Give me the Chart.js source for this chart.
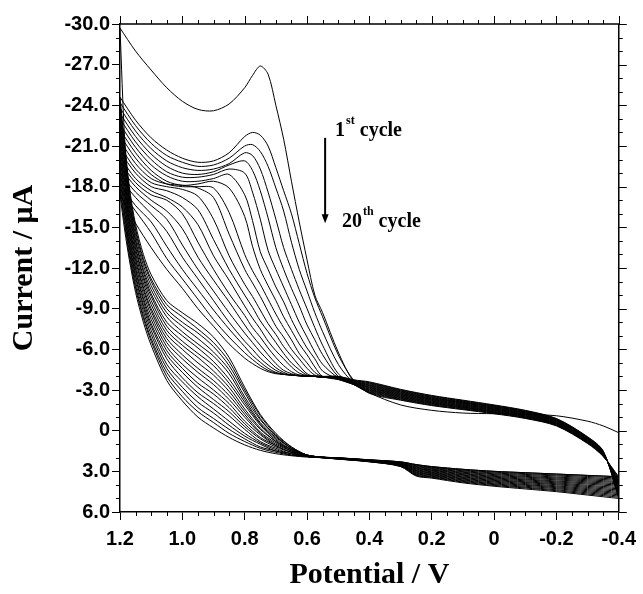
<!DOCTYPE html>
<html><head><meta charset="utf-8">
<script src="https://cdn.jsdelivr.net/npm/chart.js@4.4.1/dist/chart.umd.min.js"></script>
<style>html,body{margin:0;padding:0;background:#fff;}canvas{display:block;}</style>
</head><body>
<canvas id="c" width="643" height="594"></canvas>
<script>
// Potential grids (V)
const potentialForward = [-0.4,-0.3,-0.2,-0.1,0.0,0.1,0.2,0.25,0.3,0.4,0.5,0.55,0.6,0.65,0.7,0.75,0.8,0.85,0.9,0.95,1.0,1.05,1.1,1.125,1.15,1.17,1.185,1.2];
const potentialReverse = [1.2,1.15,1.1,1.05,1.0,0.95,0.9,0.85,0.8,0.775,0.75,0.725,0.7,0.675,0.65,0.625,0.6,0.575,0.55,0.5,0.45,0.4,0.3,0.2,0.1,0.0,-0.1,-0.2,-0.3,-0.35,-0.4];

// Forward sweeps (-0.4 -> 1.2 V), current in µA
const cycle1F  = [3.40,3.30,3.20,3.10,3.00,2.85,2.65,2.50,2.30,2.15,2.00,1.95,1.8,1.2,0.2,-1.2,-3.2,-5.4,-6.9,-7.9,-8.7,-9.6,-11.5,-13.0,-15.2,-18.0,-21.5,-29.7];
const cycle2F  = [3.40,3.30,3.20,3.10,3.00,2.85,2.65,2.50,2.30,2.15,2.00,1.95,1.8,1.2,0.3,-1.1,-3.0,-5.1,-6.5,-7.5,-8.4,-9.3,-11.2,-12.7,-14.9,-17.7,-21.1,-24.6];
const cycle3F  = [3.49,3.38,3.27,3.17,3.06,2.91,2.70,2.55,2.32,2.16,2.01,1.95,1.8,1.3,0.4,-0.9,-2.8,-4.8,-6.2,-7.2,-8.0,-9.0,-11.0,-12.5,-14.7,-17.4,-20.8,-24.2];
const cycle4F  = [3.58,3.46,3.34,3.23,3.12,2.96,2.74,2.59,2.34,2.17,2.01,1.96,1.8,1.3,0.4,-0.8,-2.5,-4.5,-5.8,-6.8,-7.7,-8.7,-10.7,-12.2,-14.4,-17.1,-20.4,-23.8];
const cycle5F  = [3.67,3.54,3.42,3.30,3.18,3.02,2.79,2.64,2.36,2.18,2.02,1.96,1.8,1.3,0.5,-0.6,-2.3,-4.2,-5.5,-6.4,-7.3,-8.4,-10.4,-11.9,-14.1,-16.9,-20.1,-23.4];
const cycle6F  = [3.76,3.62,3.49,3.37,3.24,3.07,2.84,2.69,2.38,2.18,2.02,1.96,1.8,1.4,0.6,-0.5,-2.1,-3.8,-5.1,-6.1,-7.0,-8.0,-10.1,-11.7,-13.9,-16.6,-19.7,-23.0];
const cycle7F  = [3.84,3.70,3.56,3.43,3.31,3.13,2.89,2.74,2.40,2.19,2.03,1.96,1.85,1.4,0.7,-0.4,-1.9,-3.5,-4.8,-5.7,-6.6,-7.7,-9.9,-11.4,-13.6,-16.3,-19.4,-22.6];
const cycle8F  = [3.93,3.78,3.63,3.50,3.37,3.18,2.93,2.78,2.42,2.20,2.03,1.97,1.9,1.4,0.8,-0.2,-1.6,-3.2,-4.4,-5.4,-6.3,-7.4,-9.6,-11.2,-13.4,-16.0,-19.0,-22.2];
const cycle9F  = [4.02,3.86,3.71,3.57,3.43,3.24,2.98,2.83,2.44,2.21,2.04,1.97,1.9,1.5,0.8,-0.1,-1.4,-2.9,-4.1,-5.0,-6.0,-7.1,-9.3,-10.9,-13.1,-15.7,-18.7,-21.8];
const cycle10F = [4.11,3.94,3.78,3.63,3.49,3.29,3.03,2.88,2.46,2.22,2.04,1.97,1.9,1.5,0.9,0.1,-1.2,-2.6,-3.7,-4.6,-5.6,-6.8,-9.0,-10.6,-12.8,-15.4,-18.3,-21.4];
const cycle11F = [4.20,4.03,3.85,3.70,3.55,3.35,3.08,2.93,2.48,2.23,2.05,1.98,1.9,1.5,1.0,0.2,-1.0,-2.3,-3.4,-4.3,-5.3,-6.5,-8.8,-10.4,-12.6,-15.2,-18.0,-21.0];
const cycle12F = [4.29,4.11,3.92,3.77,3.61,3.41,3.12,2.97,2.49,2.23,2.06,1.98,1.9,1.6,1.1,0.3,-0.7,-2.0,-3.0,-3.9,-4.9,-6.2,-8.5,-10.1,-12.3,-14.9,-17.6,-20.6];
const cycle13F = [4.38,4.19,3.99,3.83,3.67,3.46,3.17,3.02,2.51,2.24,2.06,1.98,1.9,1.6,1.1,0.5,-0.5,-1.7,-2.7,-3.5,-4.6,-5.9,-8.2,-9.8,-12.0,-14.6,-17.3,-20.2];
const cycle14F = [4.47,4.27,4.07,3.90,3.73,3.52,3.22,3.07,2.53,2.25,2.07,1.98,1.9,1.6,1.2,0.6,-0.3,-1.4,-2.3,-3.2,-4.3,-5.6,-7.9,-9.6,-11.8,-14.3,-16.9,-19.8];
const cycle15F = [4.56,4.35,4.14,3.97,3.79,3.57,3.26,3.11,2.55,2.26,2.07,1.99,1.9,1.7,1.3,0.8,-0.1,-1.1,-2.0,-2.8,-3.9,-5.3,-7.7,-9.3,-11.5,-14.0,-16.6,-19.4];
const cycle16F = [4.64,4.43,4.21,4.03,3.86,3.63,3.31,3.16,2.57,2.27,2.08,1.99,1.9,1.7,1.4,0.9,0.2,-0.7,-1.6,-2.5,-3.6,-4.9,-7.4,-9.1,-11.3,-13.7,-16.2,-19.0];
const cycle17F = [4.73,4.51,4.28,4.10,3.92,3.68,3.36,3.21,2.59,2.27,2.08,1.99,1.9,1.7,1.5,1.0,0.4,-0.4,-1.3,-2.1,-3.2,-4.6,-7.1,-8.8,-11.0,-13.5,-15.9,-18.6];
const cycle18F = [4.82,4.59,4.36,4.17,3.98,3.74,3.41,3.26,2.61,2.28,2.09,2.00,1.9,1.8,1.5,1.2,0.6,-0.1,-0.9,-1.7,-2.9,-4.3,-6.8,-8.5,-10.7,-13.2,-15.5,-18.2];
const cycle19F = [4.91,4.67,4.43,4.23,4.04,3.79,3.45,3.30,2.63,2.29,2.09,2.00,1.9,1.8,1.6,1.3,0.8,0.2,-0.6,-1.4,-2.5,-4.0,-6.6,-8.3,-10.5,-12.9,-15.2,-17.8];
const cycle20F = [5.00,4.75,4.50,4.30,4.10,3.85,3.50,3.35,2.65,2.30,2.10,2.00,1.95,1.85,1.7,1.45,1.05,0.5,-0.2,-1.0,-2.2,-3.7,-6.3,-8.0,-10.2,-12.6,-14.8,-17.4];

// Reverse sweeps (1.2 -> -0.4 V), current in µA
const cycle1R  = [-29.7,-28.0,-26.6,-25.3,-24.3,-23.7,-23.6,-24.1,-25.3,-26.2,-26.9,-26.3,-24.0,-21.5,-18.4,-15.4,-12.6,-10.0,-8.7,-5.8,-3.6,-2.8,-1.9,-1.5,-1.3,-1.25,-1.2,-1.1,-0.7,-0.35,0.15];
const cycle2R  = [-24.6,-22.9,-21.6,-20.7,-20.1,-19.8,-19.9,-20.5,-21.7,-22.0,-21.8,-21.0,-19.4,-17.7,-16.0,-13.8,-11.6,-9.8,-8.4,-5.6,-3.7,-2.75,-2.25,-1.85,-1.55,-1.25,-0.90,-0.35,0.95,1.90,3.40];
const cycle3R  = [-24.2,-22.5,-21.2,-20.3,-19.8,-19.5,-19.6,-20.1,-21.0,-21.1,-20.6,-19.5,-17.9,-16.2,-13.9,-11.9,-10.3,-8.7,-7.3,-4.9,-3.5,-2.80,-2.29,-1.89,-1.59,-1.29,-0.93,-0.38,0.92,1.88,3.49];
const cycle4R  = [-23.8,-22.1,-20.8,-19.9,-19.4,-19.2,-19.3,-19.7,-20.5,-20.3,-19.3,-17.6,-15.6,-13.5,-11.9,-10.4,-9.0,-7.6,-6.3,-4.2,-3.4,-2.84,-2.34,-1.93,-1.63,-1.32,-0.97,-0.41,0.89,1.86,3.58];
const cycle5R  = [-23.4,-21.7,-20.4,-19.5,-19.0,-18.9,-19.1,-19.6,-19.9,-19.2,-17.7,-15.7,-13.5,-11.9,-10.5,-9.2,-7.8,-6.7,-5.6,-4.0,-3.4,-2.89,-2.38,-1.98,-1.67,-1.36,-1.00,-0.44,0.87,1.83,3.67];
const cycle6R  = [-23.0,-21.3,-20.0,-19.1,-18.7,-18.7,-18.9,-19.3,-19.0,-17.6,-15.6,-13.3,-11.9,-10.6,-9.3,-8.0,-6.9,-5.8,-4.9,-3.9,-3.4,-2.94,-2.43,-2.02,-1.71,-1.39,-1.03,-0.47,0.84,1.81,3.76];
const cycle7R  = [-22.6,-20.9,-19.6,-18.8,-18.4,-18.4,-18.6,-18.9,-17.4,-15.5,-13.2,-11.9,-10.6,-9.5,-8.2,-7.1,-6.1,-5.3,-4.4,-3.8,-3.4,-2.99,-2.47,-2.06,-1.74,-1.43,-1.07,-0.50,0.81,1.79,3.84];
const cycle8R  = [-22.2,-20.5,-19.2,-18.4,-18.1,-18.2,-18.4,-17.9,-15.8,-13.6,-11.9,-10.7,-9.6,-8.4,-7.4,-6.4,-5.6,-4.7,-4.0,-3.77,-3.45,-3.03,-2.52,-2.10,-1.78,-1.47,-1.10,-0.53,0.78,1.77,3.93];
const cycle9R  = [-21.8,-20.1,-18.9,-18.2,-18.0,-18.0,-17.9,-16.1,-13.0,-11.8,-10.8,-9.7,-8.6,-7.6,-6.7,-5.7,-5.0,-4.3,-4.0,-3.79,-3.48,-3.08,-2.56,-2.14,-1.82,-1.50,-1.13,-0.56,0.76,1.74,4.02];
const cycle10R = [-21.4,-19.7,-18.6,-18.2,-18.1,-17.9,-17.2,-14.5,-11.9,-10.9,-9.9,-8.8,-7.7,-6.9,-6.0,-5.3,-4.6,-4.1,-4.0,-3.82,-3.50,-3.13,-2.61,-2.18,-1.86,-1.54,-1.17,-0.59,0.73,1.72,4.11];
const cycle11R = [-21.0,-19.3,-18.3,-18.0,-17.8,-17.3,-15.6,-12.9,-10.8,-9.9,-8.9,-7.9,-7.1,-6.2,-5.5,-4.8,-4.2,-4.0,-3.95,-3.85,-3.53,-3.18,-2.65,-2.23,-1.90,-1.58,-1.20,-0.63,0.70,1.70,4.20];
const cycle12R = [-20.6,-19.0,-18.0,-17.7,-17.2,-16.3,-14.1,-11.9,-10.0,-9.1,-8.1,-7.3,-6.5,-5.7,-5.0,-4.5,-4.1,-4.0,-3.95,-3.88,-3.55,-3.22,-2.69,-2.27,-1.94,-1.61,-1.23,-0.66,0.67,1.68,4.29];
const cycle13R = [-20.2,-18.6,-17.7,-17.2,-16.5,-15.2,-12.9,-11.1,-9.2,-8.3,-7.5,-6.6,-5.9,-5.3,-4.7,-4.25,-4.05,-4.0,-3.95,-3.91,-3.58,-3.27,-2.74,-2.31,-1.98,-1.65,-1.27,-0.69,0.64,1.66,4.38];
const cycle14R = [-19.8,-18.3,-17.4,-17.0,-16.0,-13.9,-11.9,-10.1,-8.5,-7.6,-6.9,-6.1,-5.4,-4.8,-4.35,-4.1,-4.0,-4.0,-3.95,-3.93,-3.60,-3.32,-2.78,-2.35,-2.02,-1.68,-1.30,-0.72,0.62,1.63,4.47];
const cycle15R = [-19.4,-18.0,-17.0,-16.2,-14.9,-12.8,-11.1,-9.5,-7.8,-7.0,-6.3,-5.6,-4.95,-4.45,-4.2,-4.05,-4.0,-4.0,-3.95,-3.96,-3.63,-3.36,-2.83,-2.39,-2.06,-1.72,-1.33,-0.75,0.59,1.61,4.56];
const cycle16R = [-19.0,-17.6,-16.6,-15.6,-13.7,-11.9,-10.3,-8.7,-7.2,-6.5,-5.8,-5.2,-4.65,-4.3,-4.1,-4.05,-4.0,-4.0,-3.95,-3.95,-3.65,-3.41,-2.87,-2.43,-2.09,-1.76,-1.37,-0.78,0.56,1.59,4.64];
const cycle17R = [-18.6,-17.2,-16.0,-14.7,-12.8,-11.2,-9.6,-8.0,-6.6,-6.0,-5.35,-4.85,-4.45,-4.2,-4.1,-4.05,-4.0,-4.0,-3.95,-3.95,-3.68,-3.46,-2.92,-2.47,-2.13,-1.79,-1.40,-0.81,0.53,1.57,4.73];
const cycle18R = [-18.2,-16.6,-15.4,-13.6,-11.9,-10.4,-8.9,-7.5,-6.2,-5.55,-5.05,-4.6,-4.3,-4.15,-4.1,-4.05,-4.0,-4.0,-3.95,-3.97,-3.70,-3.51,-2.96,-2.52,-2.17,-1.83,-1.43,-0.84,0.51,1.54,4.82];
const cycle19R = [-17.8,-16.2,-14.6,-12.7,-11.2,-9.7,-8.2,-6.9,-5.75,-5.25,-4.8,-4.45,-4.25,-4.15,-4.1,-4.05,-4.05,-4.0,-4.0,-4.0,-3.73,-3.55,-3.01,-2.56,-2.21,-1.86,-1.47,-0.87,0.48,1.52,4.91];
const cycle20R = [-17.4,-15.3,-13.5,-11.9,-10.5,-9.0,-7.7,-6.4,-5.35,-4.95,-4.6,-4.35,-4.2,-4.15,-4.1,-4.1,-4.05,-4.05,-4.0,-4.0,-3.75,-3.60,-3.05,-2.60,-2.25,-1.90,-1.50,-0.90,0.45,1.50,5.00];

// Tick labels
const xTickValues = [1.2,1.0,0.8,0.6,0.4,0.2,0,-0.2,-0.4];
const xTickLabels = ['1.2','1.0','0.8','0.6','0.4','0.2','0','-0.2','-0.4'];
const yTickValues = [-30,-27,-24,-21,-18,-15,-12,-9,-6,-3,0,3,6];
const yTickLabels = ['-30.0','-27.0','-24.0','-21.0','-18.0','-15.0','-12.0','-9.0','-6.0','-3.0','0','3.0','6.0'];

const forwardSweeps = [cycle1F,cycle2F,cycle3F,cycle4F,cycle5F,cycle6F,cycle7F,cycle8F,cycle9F,cycle10F,cycle11F,cycle12F,cycle13F,cycle14F,cycle15F,cycle16F,cycle17F,cycle18F,cycle19F,cycle20F];
const reverseSweeps = [cycle1R,cycle2R,cycle3R,cycle4R,cycle5R,cycle6R,cycle7R,cycle8R,cycle9R,cycle10R,cycle11R,cycle12R,cycle13R,cycle14R,cycle15R,cycle16R,cycle17R,cycle18R,cycle19R,cycle20R];

const datasets = [];
forwardSweeps.forEach((arr, i) => {
  datasets.push({label:'cycle '+(i+1)+' forward', data: potentialForward.map((p,j)=>({x:p, y:arr[j]}))});
  datasets.push({label:'cycle '+(i+1)+' reverse', data: potentialReverse.map((p,j)=>({x:p, y:reverseSweeps[i][j]}))});
});

const frameAndNotes = {
  id: 'frameAndNotes',
  afterDraw(chart) {
    const {ctx, chartArea: a, scales: {x, y}} = chart;
    ctx.save();
    ctx.strokeStyle = '#000';
    ctx.lineWidth = 1.5;
    ctx.beginPath();
    ctx.moveTo(a.left, a.top); ctx.lineTo(a.right, a.top); ctx.lineTo(a.right, a.bottom);
    ctx.stroke();
    ctx.lineWidth = 1;
    ctx.beginPath();
    for (let i = 0; i <= 32; i++) {
      const v = -0.4 + i * 0.05;
      const px = Math.round(x.getPixelForValue(v)) + 0.5;
      const major = i % 4 === 0;
      const L = major ? 8 : 4;
      if (!major) { ctx.moveTo(px, a.bottom); ctx.lineTo(px, a.bottom + L); }
      ctx.moveTo(px, a.top); ctx.lineTo(px, a.top - L);
    }
    for (let i = 0; i <= 36; i++) {
      const v = -30 + i;
      const py = Math.round(y.getPixelForValue(v)) + 0.5;
      const major = i % 3 === 0;
      const L = major ? 8 : 4;
      if (!major) { ctx.moveTo(a.left, py); ctx.lineTo(a.left - L, py); }
      ctx.moveTo(a.right, py); ctx.lineTo(a.right + L, py);
    }
    ctx.stroke();

    // annotation: arrow and cycle labels
    const ax = x.getPixelForValue(0.542);
    const ay1 = y.getPixelForValue(-21.6), ay2 = y.getPixelForValue(-15.3);
    ctx.lineWidth = 2;
    ctx.beginPath(); ctx.moveTo(ax, ay1); ctx.lineTo(ax, ay2 - 7); ctx.stroke();
    ctx.fillStyle = '#000';
    ctx.beginPath(); ctx.moveTo(ax - 3.5, ay2 - 9); ctx.lineTo(ax + 3.5, ay2 - 9); ctx.lineTo(ax, ay2); ctx.closePath(); ctx.fill();

    const big = 'bold 20px "Liberation Serif", "Times New Roman", serif';
    const small = 'bold 12px "Liberation Serif", "Times New Roman", serif';
    ctx.textBaseline = 'alphabetic';
    ctx.textAlign = 'left';
    function label(num, sup, vx, vy) {
      let px = x.getPixelForValue(vx), py = y.getPixelForValue(vy);
      ctx.font = big; ctx.fillText(num, px, py); px += ctx.measureText(num).width + 1;
      ctx.font = small; ctx.fillText(sup, px, py - 12); px += ctx.measureText(sup).width + 5;
      ctx.font = big; ctx.fillText('cycle', px, py);
    }
    label('1', 'st', 0.51, -21.75);
    label('20', 'th', 0.488, -15.0);
    ctx.restore();
  }
};

new Chart(document.getElementById('c'), {
  type: 'scatter',
  data: { datasets },
  options: {
    responsive: false,
    animation: false,
    layout: { padding: { left: 0, right: 20, top: 24, bottom: 0 } },
    plugins: { legend: { display: false }, tooltip: { enabled: false } },
    elements: {
      point: { radius: 0, hoverRadius: 0 },
      line: { borderWidth: 1, tension: 0.3, borderColor: '#000', fill: false }
    },
    datasets: { scatter: { showLine: true, borderColor: '#000', backgroundColor: '#000', borderWidth: 1 } },
    scales: {
      x: {
        type: 'linear', reverse: true, min: -0.4, max: 1.2,
        afterBuildTicks: s => { s.ticks = xTickValues.map(v => ({ value: v })); },
        afterFit: s => { s.height = 82; },
        ticks: {
          autoSkip: false, maxRotation: 0, padding: 7, color: '#000',
          font: { family: '"Liberation Sans", Arial, sans-serif', size: 20, weight: 'bold' },
          callback: v => { const i = xTickValues.indexOf(v); return i >= 0 ? xTickLabels[i] : ''; }
        },
        grid: { drawOnChartArea: false, tickLength: 8, tickColor: '#000', tickWidth: 1 },
        border: { color: '#000', width: 1.5 },
        title: {
          display: true, text: 'Potential / V', color: '#000',
          font: { family: '"Liberation Serif", "Times New Roman", serif', size: 30, weight: 'bold' },
          padding: { top: 0, bottom: 1 }
        }
      },
      y: {
        type: 'linear', reverse: true, min: -30, max: 6,
        afterBuildTicks: s => { s.ticks = yTickValues.map(v => ({ value: v })); },
        afterFit: s => { s.width = 120; },
        ticks: {
          autoSkip: false, padding: 2, color: '#000',
          font: { family: '"Liberation Sans", Arial, sans-serif', size: 20, weight: 'bold' },
          callback: v => { const i = yTickValues.indexOf(v); return i >= 0 ? yTickLabels[i] : ''; }
        },
        grid: { drawOnChartArea: false, tickLength: 8, tickColor: '#000', tickWidth: 1 },
        border: { color: '#000', width: 1.5 },
        title: {
          display: true, text: 'Current / μA', color: '#000',
          font: { family: '"Liberation Serif", "Times New Roman", serif', size: 30, weight: 'bold' },
          padding: { top: 6, bottom: 0 }
        }
      }
    }
  },
  plugins: [frameAndNotes]
});
</script>
</body></html>
